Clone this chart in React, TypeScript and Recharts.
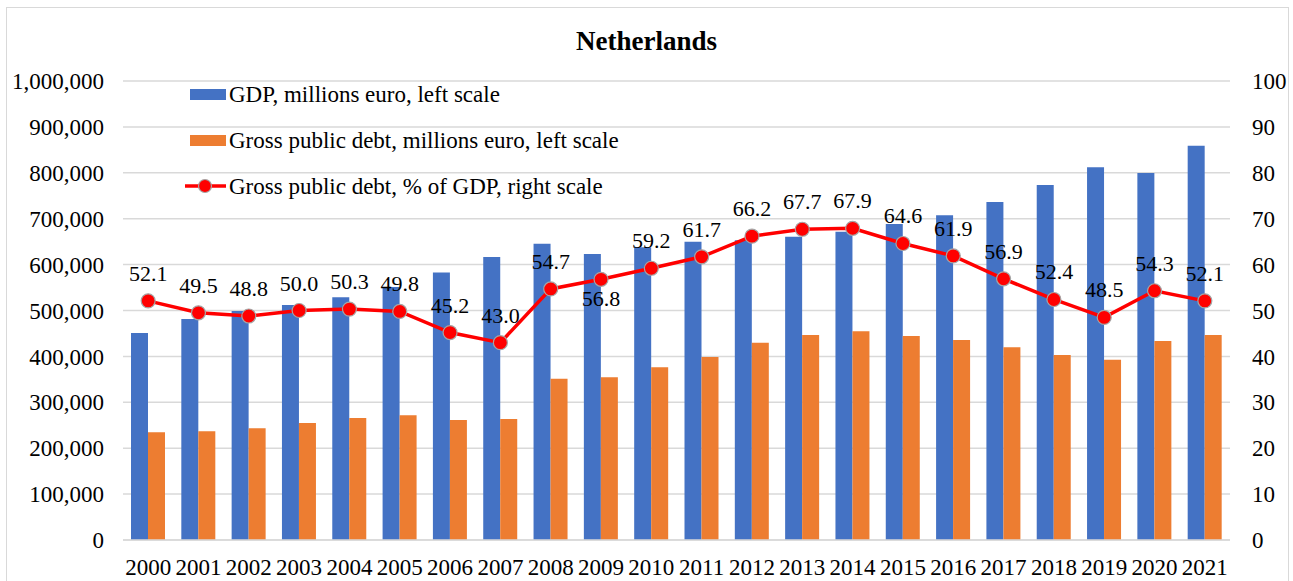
import {
  ComposedChart,
  Bar,
  Line,
  XAxis,
  YAxis,
  CartesianGrid,
  Legend,
} from "recharts";

const years = [
  "2000", "2001", "2002", "2003", "2004", "2005", "2006", "2007", "2008", "2009", "2010",
  "2011", "2012", "2013", "2014", "2015", "2016", "2017", "2018", "2019", "2020", "2021",
];

// GDP, millions euro (left scale)
const gdp = [
  451000, 481500, 499000, 512000, 528700, 551000, 583000, 616500, 645500, 623000, 637600,
  650000, 653000, 660900, 671700, 688500, 707300, 736400, 773400, 812000, 799600, 859100,
];

// Gross public debt, millions euro (left scale)
const debt = [
  234600, 236800, 243300, 254900, 265800, 271600, 261400, 263600, 351500, 354400, 376200,
  398700, 429900, 446600, 454600, 444400, 435700, 419800, 403100, 392900, 433600, 446600,
];

// Gross public debt, % of GDP (right scale)
const debtPct = [
  52.1, 49.5, 48.8, 50.0, 50.3, 49.8, 45.2, 43.0, 54.7, 56.8, 59.2,
  61.7, 66.2, 67.7, 67.9, 64.6, 61.9, 56.9, 52.4, 48.5, 54.3, 52.1,
];

const leftTicks = [0, 100000, 200000, 300000, 400000, 500000, 600000, 700000, 800000, 900000, 1000000];
const rightTicks = [0, 10, 20, 30, 40, 50, 60, 70, 80, 90, 100];

const seriesNames = [
  "GDP, millions euro, left scale",
  "Gross public debt, millions euro, left scale",
  "Gross public debt, % of GDP, right scale",
];

const data = years.map((year, i) => ({
  year,
  gdp: gdp[i],
  debt: debt[i],
  pct: debtPct[i],
}));

const font = "'Liberation Serif', 'Times New Roman', serif";
const BLUE = "#4472C4";
const ORANGE = "#ED7D31";
const RED = "#FF0000";
const GRID = "#d9d9d9";

// labels that sit under the marker instead of above it
const labelsBelow = [9];

const renderPctLabel = (props: any) => {
  const { x, y, value, index } = props;
  const below = labelsBelow.includes(index);
  return (
    <text
      key={`pct-${index}`}
      x={x}
      y={below ? y + 27 : y - 20}
      textAnchor="middle"
      fontFamily="Liberation Serif"
      fontSize={22}
      style={{ fontFamily: font, fontSize: 22 }}
      fill="#000"
    >
      {Number(value).toFixed(1)}
    </text>
  );
};

function LegendContent() {
  const row = { display: "flex", alignItems: "center", height: 46 } as const;
  return (
    <div style={{ fontFamily: font, fontSize: 23, color: "#000", lineHeight: 1 }}>
      <div style={row}>
        <div style={{ width: 41, display: "flex", justifyContent: "flex-end" }}>
          <div style={{ width: 36, height: 11, background: BLUE }} />
        </div>
        <span style={{ marginLeft: 3 }}>{seriesNames[0]}</span>
      </div>
      <div style={row}>
        <div style={{ width: 41, display: "flex", justifyContent: "flex-end" }}>
          <div style={{ width: 36, height: 11, background: ORANGE }} />
        </div>
        <span style={{ marginLeft: 3 }}>{seriesNames[1]}</span>
      </div>
      <div style={row}>
        <svg width={41} height={16}>
          <line x1={0} y1={8} x2={41} y2={8} stroke={RED} strokeWidth={3.5} />
          <circle cx={20} cy={8} r={6.5} fill={RED} stroke="#a5a5a5" strokeWidth={1.2} />
        </svg>
        <span style={{ marginLeft: 3 }}>{seriesNames[2]}</span>
      </div>
    </div>
  );
}

export default function App() {
  return (
    <div style={{ position: "absolute", left: 0, top: 0, width: 1293, height: 581, background: "#fff", overflow: "hidden" }}>
      <div
        style={{
          position: "absolute",
          left: 6,
          top: 7,
          width: 1281,
          height: 600,
          border: `1px solid ${GRID}`,
        }}
      />
      <div
        style={{
          position: "absolute",
          left: 0,
          top: 26,
          width: 1293,
          textAlign: "center",
          fontFamily: font,
          fontWeight: "bold",
          fontSize: 27,
          lineHeight: "30px",
          color: "#000",
        }}
      >
        Netherlands
      </div>
      <div style={{ position: "absolute", left: 0, top: 0 }}>
        <ComposedChart
          width={1293}
          height={581}
          data={data}
          margin={{ top: 81, right: 0, bottom: 0, left: 0 }}
          barSize={17}
          barGap={0}
        >
          <CartesianGrid yAxisId="left" vertical={false} stroke={GRID} strokeWidth={1.5} />
          <XAxis
            dataKey="year"
            height={41}
            interval={0}
            tickLine={false}
            axisLine={{ stroke: GRID, strokeWidth: 1.5 }}
            tickSize={0}
            tickMargin={19}
            tick={{ fontFamily: font, fontSize: 23, fill: "#000" }}
          />
          <YAxis
            yAxisId="left"
            orientation="left"
            width={123}
            domain={[0, 1000000]}
            ticks={leftTicks}
            interval={0}
            tickLine={false}
            axisLine={false}
            tickSize={0}
            tickMargin={19}
            tickFormatter={(v: number) => v.toLocaleString("en-US")}
            tick={{ fontFamily: font, fontSize: 23, fill: "#000" }}
          />
          <YAxis
            yAxisId="right"
            orientation="right"
            width={63}
            domain={[0, 100]}
            ticks={rightTicks}
            interval={0}
            tickLine={false}
            axisLine={false}
            tickSize={0}
            tickMargin={22}
            tick={{ fontFamily: font, fontSize: 23, fill: "#000", textAnchor: "start" }}
          />
          <Legend
            layout="vertical"
            align="center"
            verticalAlign="middle"
            content={<LegendContent />}
            wrapperStyle={{ top: 71, left: 185, width: 560, height: 138 }}
          />
          <Bar yAxisId="left" dataKey="gdp" name={seriesNames[0]} fill={BLUE} isAnimationActive={false} />
          <Bar yAxisId="left" dataKey="debt" name={seriesNames[1]} fill={ORANGE} isAnimationActive={false} />
          <Line
            yAxisId="right"
            dataKey="pct"
            name={seriesNames[2]}
            type="linear"
            stroke={RED}
            strokeWidth={3.5}
            dot={{ r: 7, fill: RED, stroke: "#a5a5a5", strokeWidth: 1.2 }}
            activeDot={false}
            label={renderPctLabel}
            isAnimationActive={false}
          />
        </ComposedChart>
      </div>
    </div>
  );
}
